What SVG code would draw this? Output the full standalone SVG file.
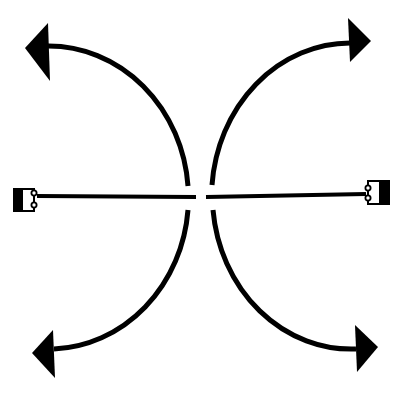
<svg xmlns="http://www.w3.org/2000/svg" width="400" height="400" viewBox="0 0 400 400">
<style>
.arc{fill:none;stroke:#000;stroke-width:5;stroke-linecap:butt}
.line{fill:none;stroke:#000;stroke-width:4}
.head{fill:#000}
.blk{fill:#000}
.box{fill:#fff;stroke:#000;stroke-width:2}
.pin{fill:#fff;stroke:#000;stroke-width:1.8}
</style>
<rect width="400" height="400" fill="#fff"/>
<g id="connectors">
<path class="arc" d="M48,46 A140,152 0 0 1 188,186"/>
<path class="arc" d="M188,210 A140,152 0 0 1 54,349"/>
<path class="arc" d="M350,43 A139,154 0 0 0 212,185"/>
<path class="arc" d="M213,210 A139,154 0 0 0 356,349"/>
<polygon class="head" points="25,48 48,23 50,81"/>
<polygon class="head" points="371,41 348,18 350,62"/>
<polygon class="head" points="32,353 53,330 55,378"/>
<polygon class="head" points="378,347 355,325 357,372"/>
<path class="line" d="M37,196 L196,197"/>
<path class="line" d="M206,197 L366,194"/>
</g>
<g id="left-terminal">
<rect class="blk" x="13" y="188" width="10" height="24"/>
<rect class="box" x="22" y="189" width="12" height="22"/>
<circle class="pin" cx="34" cy="193" r="2.6"/>
<circle class="pin" cx="34" cy="205" r="2.6"/>
</g>
<g id="right-terminal">
<rect class="blk" x="380" y="180" width="10" height="25"/>
<rect class="box" x="368" y="181" width="12" height="23"/>
<circle class="pin" cx="368" cy="188" r="2.6"/>
<circle class="pin" cx="368" cy="198" r="2.6"/>
</g>
</svg>
